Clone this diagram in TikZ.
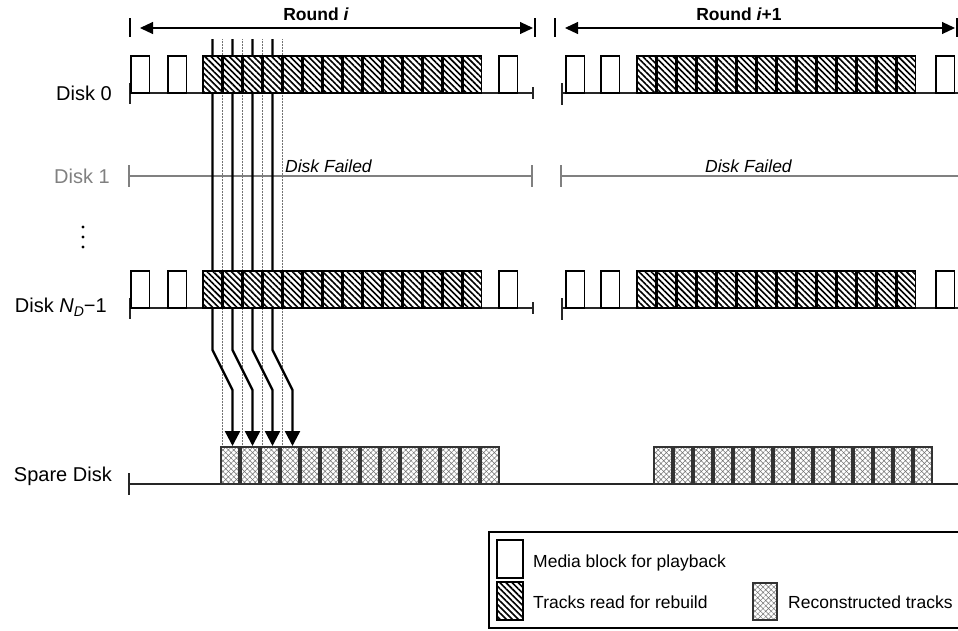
\documentclass[tikz,border=0pt]{standalone}
\usepackage{fontspec}
\setmainfont{Liberation Sans}
\usetikzlibrary{arrows.meta,patterns.meta}
\begin{document}
\begin{tikzpicture}[x=1pt,y=-1pt,
  lbl/.style={anchor=east,font=\fontsize{20}{24}\selectfont,inner sep=0pt},
  sm/.style={font=\fontsize{17.5}{21}\selectfont,inner sep=0pt},
  base/.style={line width=1.3pt,black!85},
  failed/.style={line width=1.1pt,black!50},
  blank/.style={draw=black,line width=1.5pt,fill=white},
  rebuild/.style={draw=black,line width=1.6pt,preaction={fill=white},
     pattern={Lines[angle=-45,distance=4.3pt,line width=1.6pt]}},
  recon/.style={draw=black!80,line width=1.5pt,preaction={fill=white},
     pattern={Hatch[angle=45,distance=3.8pt,line width=0.5pt]},pattern color=black!55},
  dotline/.style={line width=0.5pt,black!55,densely dotted},
  rarrow/.style={line width=2.4pt,-{Triangle[length=15pt,width=15pt]}},
  span/.style={line width=1.1pt,{Triangle[length=13pt,width=12pt]}-{Triangle[length=13pt,width=12pt]}},
  rtick/.style={line width=1.3pt}]
\useasboundingbox (0,0) rectangle (958,630);

% round spans
\node[sm,font=\bfseries\fontsize{17.5}{21}\selectfont] (r0) at (316,14) {Round \textit{i}};
\node[sm,font=\bfseries\fontsize{17.5}{21}\selectfont] (r1) at (739,14) {Round \textit{i}+1};
\coordinate (a0l) at (140,28); \coordinate (a0r) at (533,28);
\coordinate (a1l) at (565,28); \coordinate (a1r) at (955,28);
\draw[span] (a0l) -- (a0r);
\draw[span] (a1l) -- (a1r);
\draw[rtick] (130,18) -- (130,37);
\draw[rtick] (535,18) -- (535,37);
\draw[rtick] (555,18) -- (555,37);
\draw[rtick] (957,18) -- (957,37);

% labels
\node[lbl] (d0) at (112,93) {Disk 0};
\node[lbl,text=black!50] (d1) at (110,176) {Disk 1};
\node[lbl] (dn) at (107,307) {Disk \textit{N}\raisebox{-0.35ex}{\fontsize{14}{16}\selectfont\textit{D}}−1};
\node[lbl] (sp) at (112,476) {Spare Disk};
\foreach \yy in {227,237,247} \fill (83,\yy) circle (1.6);

% disk 1 (failed)
\draw[failed] (129,176) -- (533,176);
\draw[failed] (129,165) -- (129,187);
\draw[failed] (532,165) -- (532,187);
\draw[failed] (561,176) -- (960,176);
\draw[failed] (561,165) -- (561,187);
\node[sm,anchor=base west,font=\itshape\fontsize{17.5}{21}\selectfont] (f0) at (285,172) {Disk Failed};
\node[sm,anchor=base west,font=\itshape\fontsize{17.5}{21}\selectfont] (f1) at (705,172) {Disk Failed};

% rebuild paths
\foreach \k in {0,...,3}{
  \coordinate (t\k) at ({212.5+20*\k},39);
  \coordinate (b\k) at ({212.5+20*\k},350);
  \coordinate (c\k) at ({232.5+20*\k},390);
  \coordinate (e\k) at ({232.5+20*\k},446);
  \coordinate (u\k) at ({222+20*\k},39);
  \coordinate (v\k) at ({222+20*\k},447);
  \draw[dotline] (u\k) -- (v\k);
  \draw[rarrow] (t\k) -- (b\k) -- (c\k) -- (e\k);
}

% baselines
\foreach \yy in {93,308}{
  \draw[base] (130,\yy) -- (533,\yy);
  \draw[base] (130,{\yy-10}) -- (130,{\yy+11});
  \draw[base] (533,{\yy-6}) -- (533,{\yy+6});
  \draw[base] (562,\yy) -- (960,\yy);
  \draw[base] (562,{\yy-10}) -- (562,{\yy+12});
}
\draw[base] (129,484) -- (960,484);
\draw[base] (129,473) -- (129,495);

% blocks for disk 0 and disk N_D-1
\foreach \yt/\yb in {56/93,271/308}{
  \foreach \xa in {131,168,499,566,601,936}
    \draw[blank] (\xa,\yt) rectangle ({\xa+18.5},\yb);
  \foreach \k in {0,...,13}{
    \draw[rebuild] ({203+20*\k},\yt) rectangle ({221.5+20*\k},\yb);
    \draw[rebuild] ({637+20*\k},\yt) rectangle ({655.5+20*\k},\yb);
  }
}
% spare disk blocks
\foreach \k in {0,...,13}{
  \draw[recon] ({221+20*\k},447) rectangle ({239+20*\k},484);
  \draw[recon] ({654+20*\k},447) rectangle ({672+20*\k},484);
}

% legend
\draw[line width=1.4pt] (489,532) rectangle (962,628);
\draw[blank] (497,540) rectangle (523,578);
\draw[rebuild] (497,582) rectangle (523,620);
\draw[recon] (753,583) rectangle (777,620);
\node[sm,anchor=west] (l1) at (533,563) {Media block for playback};
\node[sm,anchor=west] (l2) at (533,602) {Tracks read for rebuild};
\node[sm,anchor=west] (l3) at (788,602) {Reconstructed tracks};
\end{tikzpicture}
\end{document}
